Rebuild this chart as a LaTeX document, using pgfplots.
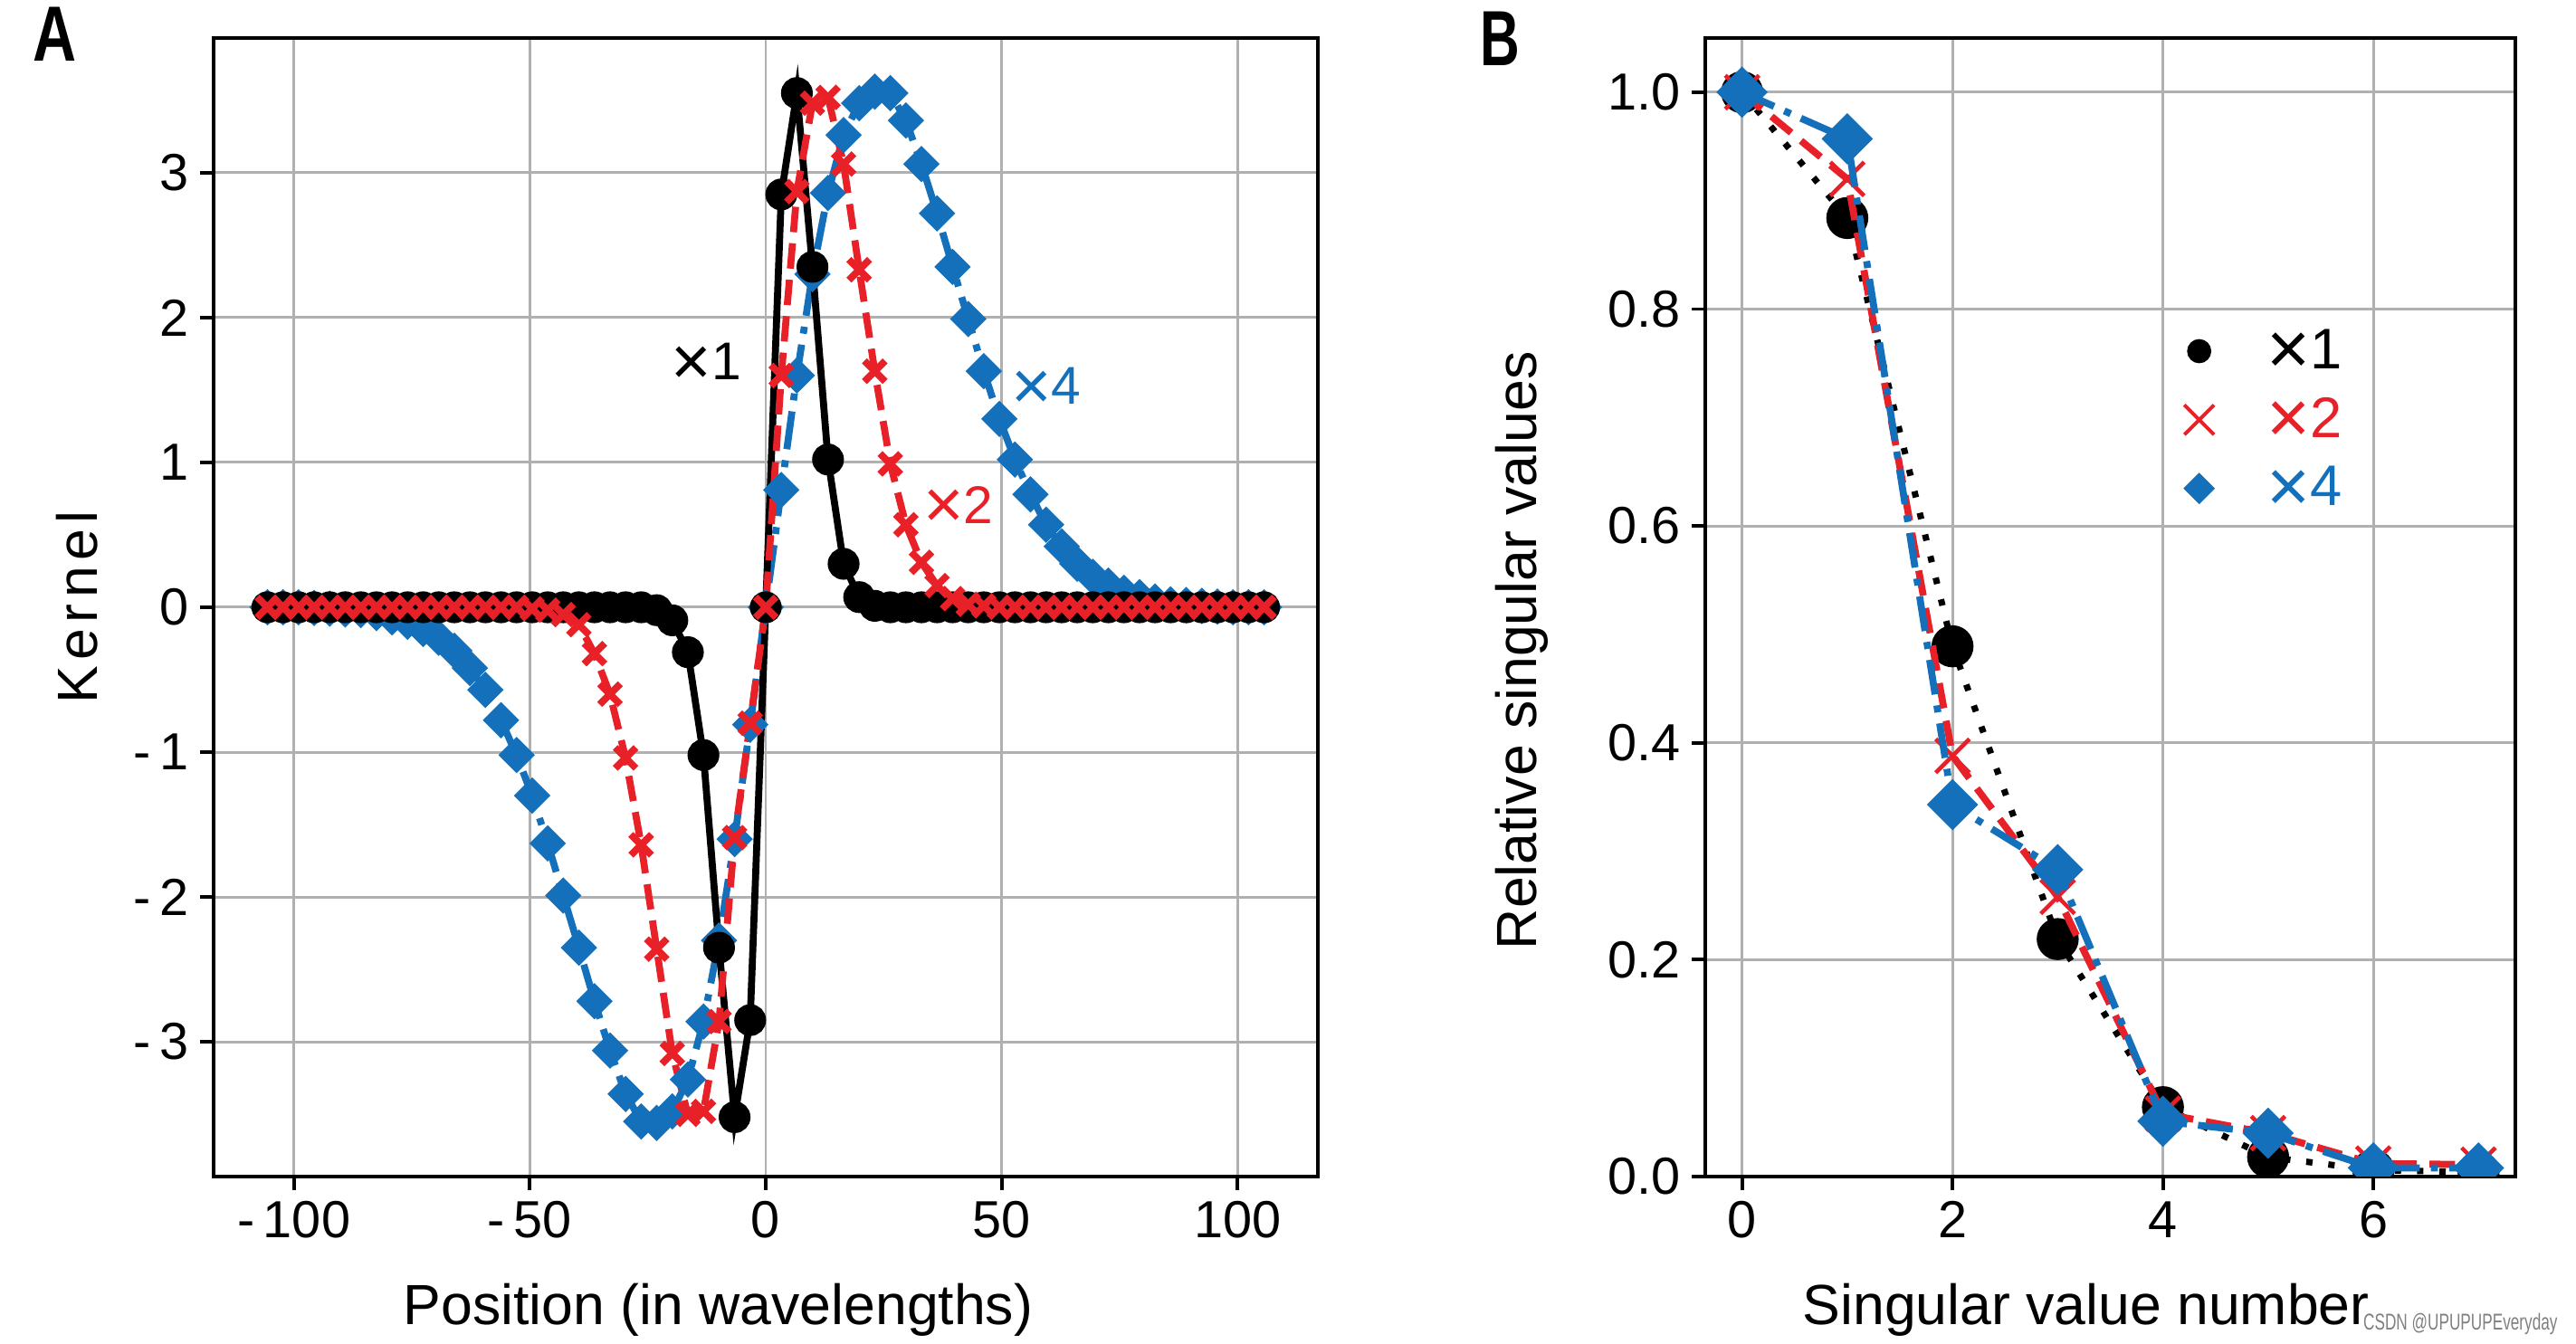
\documentclass[border=0pt]{standalone}
\usepackage{pgfplots}
\pgfplotsset{compat=1.18}
\usepackage{graphicx}
\usepackage{fontspec}
\setmainfont{Liberation Sans}
\definecolor{cred}{RGB}{232,32,40}
\definecolor{cblue}{RGB}{20,112,186}
\definecolor{gridgray}{RGB}{176,176,176}
\newcommand{\tm}{\raisebox{-0.1em}{\scalebox{1.3}{×}}}

\pgfplotstableread{
x y
-105.6 0
-102.3 0
-99 0
-95.7 0
-92.4 0
-89.1 0
-85.8 0
-82.5 0
-79.2 0
-75.9 0
-72.6 0
-69.3 0
-66 0
-62.7 0
-59.4 0
-56.1 0
-52.8 0
-49.5 0
-46.2 0
-42.9 0
-39.6 0
-36.3 0
-33 0
-29.7 0
-26.4 0
-23.1 -0.02
-19.8 -0.09
-16.5 -0.31
-13.2 -1.02
-9.9 -2.35
-6.6 -3.52
-3.3 -2.85
0 0
3.3 2.85
6.6 3.55
9.9 2.35
13.2 1.02
16.5 0.30
19.8 0.07
23.1 0.01
26.4 0
29.7 0
33 0
36.3 0
39.6 0
42.9 0
46.2 0
49.5 0
52.8 0
56.1 0
59.4 0
62.7 0
66 0
69.3 0
72.6 0
75.9 0
79.2 0
82.5 0
85.8 0
89.1 0
92.4 0
95.7 0
99 0
102.3 0
105.6 0
}\blackA

\pgfplotstableread{
x y
-105.6 0
-102.3 0
-99 0
-95.7 0
-92.4 0
-89.1 0
-85.8 0
-82.5 0
-79.2 0
-75.9 0
-72.6 0
-69.3 0
-66 0
-62.7 0
-59.4 0
-56.1 0
-52.8 0
-49.5 -0.01
-46.2 -0.02
-42.9 -0.05
-39.6 -0.12
-36.3 -0.32
-33 -0.60
-29.7 -1.04
-26.4 -1.64
-23.1 -2.36
-19.8 -3.08
-16.5 -3.50
-13.2 -3.48
-9.9 -2.86
-6.6 -1.59
-3.3 -0.8
0 0
3.3 1.6
6.6 2.87
9.9 3.48
13.2 3.52
16.5 3.06
19.8 2.33
23.1 1.63
26.4 0.99
29.7 0.57
33 0.31
36.3 0.15
39.6 0.06
42.9 0.02
46.2 0.01
49.5 0
52.8 0
56.1 0
59.4 0
62.7 0
66 0
69.3 0
72.6 0
75.9 0
79.2 0
82.5 0
85.8 0
89.1 0
92.4 0
95.7 0
99 0
102.3 0
105.6 0
}\redA

\pgfplotstableread{
x y
-105.6 0
-102.3 0
-99 0
-95.7 -0.005
-92.4 -0.01
-89.1 -0.015
-85.8 -0.02
-82.5 -0.04
-79.2 -0.07
-75.9 -0.10
-72.6 -0.15
-69.3 -0.21
-66 -0.30
-62.7 -0.42
-59.4 -0.57
-56.1 -0.78
-52.8 -1.02
-49.5 -1.30
-46.2 -1.63
-42.9 -1.99
-39.6 -2.35
-36.3 -2.72
-33 -3.06
-29.7 -3.36
-26.4 -3.55
-23.1 -3.56
-19.8 -3.48
-16.5 -3.26
-13.2 -2.86
-9.9 -2.30
-6.6 -1.60
-3.3 -0.81
0 0
3.3 0.81
6.6 1.60
9.9 2.30
13.2 2.86
16.5 3.26
19.8 3.48
23.1 3.56
26.4 3.55
29.7 3.36
33 3.06
36.3 2.72
39.6 2.35
42.9 1.99
46.2 1.63
49.5 1.30
52.8 1.02
56.1 0.78
59.4 0.57
62.7 0.42
66 0.30
69.3 0.21
72.6 0.15
75.9 0.10
79.2 0.07
82.5 0.04
85.8 0.02
89.1 0.015
92.4 0.01
95.7 0.005
99 0
102.3 0
105.6 0
}\blueA

\pgfplotstableread{
x y
0 1.000
1 0.884
2 0.489
3 0.219
4 0.064
5 0.018
6 0.006
7 0.004
}\blackB

\pgfplotstableread{
x y
0 1.000
1 0.920
2 0.388
3 0.258
4 0.058
5 0.040
6 0.012
7 0.011
}\redB

\pgfplotstableread{
x y
0 1.000
1 0.957
2 0.343
3 0.283
4 0.051
5 0.040
6 0.008
7 0.008
}\blueB

\pgfplotsset{
  mystyle/.style={
    scale only axis,
    height=12.58cm,
    axis line style={line width=1.1pt, black},
    every tick/.style={line width=1.1pt, black},
    major tick length=0.15cm,
    tick align=outside,
    xtick pos=bottom, ytick pos=left,
    grid=major,
    major grid style={gridgray, line width=0.85pt},
    tick label style={font=\fontsize{16.4}{19}\selectfont},
    label style={font=\fontsize{17.8}{21}\selectfont},
  }
}

\begin{document}
\begin{tikzpicture}
\useasboundingbox (-2.36,-1.85) rectangle (26.10,13.00);

\begin{axis}[mystyle, at={(0cm,0cm)}, anchor=south west, width=12.2cm,
  xmin=-117, xmax=117, ymin=-3.93, ymax=3.93,
  xtick={-100,-50,0,50,100}, xticklabels={-\,100,-\,50,0,50,100},
  ytick={-3,-2,-1,0,1,2,3}, yticklabels={-\,3,-\,2,-\,1,0,1,2,3},
  xlabel={Position (in wavelengths)},
  ylabel={\addfontfeature{LetterSpace=10}Kernel},
  x label style={at={(axis description cs:0.457,-0.117)}, anchor=center},
  y label style={at={(axis description cs:-0.124,0.5)}, anchor=center},
]
\addplot[cblue, line width=2.2pt, dash pattern=on 12pt off 3.5pt on 2.2pt off 3.5pt,
  mark=square*, mark size=3.8pt, mark options={solid, rotate=45, fill=cblue, line width=0.5pt}] table {\blueA};
\addplot[black, line width=2.2pt, mark=*, mark size=3.9pt, mark options={solid}] table {\blackA};
\addplot[cred, line width=2.2pt, dash pattern=on 8pt off 3.5pt,
  mark=x, mark size=4.6pt, mark options={solid, line width=2.2pt}] table {\redA};
\node[black, font=\fontsize{16.7}{19}\selectfont] at (axis cs:-12.6,1.68) {\tm1};
\node[cred, font=\fontsize{16.7}{19}\selectfont] at (axis cs:40.8,0.69) {\tm2};
\node[cblue, font=\fontsize{16.7}{19}\selectfont] at (axis cs:59.4,1.51) {\tm4};
\end{axis}

\begin{axis}[mystyle, at={(16.48cm,0cm)}, anchor=south west, width=8.95cm,
  xmin=-0.35, xmax=7.35, ymin=0, ymax=1.05,
  xtick={0,2,4,6}, xticklabels={0,2,4,6},
  ytick={0,0.2,0.4,0.6,0.8,1.0}, yticklabels={0.0,0.2,0.4,0.6,0.8,1.0},
  xlabel={Singular value number},
  ylabel={Relative singular values},
  x label style={at={(axis description cs:0.47,-0.117)}, anchor=center},
  y label style={at={(axis description cs:-0.227,0.462)}, anchor=center},
  clip marker paths=true,
  legend cell align=left,
  legend image code/.code={\path[draw=none, fill=none] (0cm,-0.2cm) rectangle (0.6cm,0.2cm);
    \draw[mark repeat=2,mark phase=2,#1] plot coordinates {(0cm,0cm) (0.3cm,0cm) (0.6cm,0cm)};},
  legend style={draw=none, fill=none, at={(axis cs:3.99,0.788)}, anchor=north west,
    font=\fontsize{18}{21}\selectfont, nodes={inner sep=0pt}, row sep=7.6pt,
    /tikz/every odd column/.append style={column sep=0.45cm}},
]
\addplot[forget plot, black, line width=2pt, dash pattern=on 2pt off 5pt,
  mark=*, mark size=5.6pt, mark options={solid}] table {\blackB};
\addplot[forget plot, cred, line width=2.2pt, dash pattern=on 8pt off 4pt,
  mark=x, mark size=7.5pt, mark options={solid, line width=1.3pt}] table {\redB};
\addplot[forget plot, cblue, line width=2.2pt, dash pattern=on 11pt off 3.5pt on 2.2pt off 3.5pt,
  mark=square*, mark size=4.6pt, mark options={solid, rotate=45, fill=cblue}] table {\blueB};
\addlegendimage{only marks, mark=*, mark size=3.6pt, black}
\addlegendentry{\textcolor{black}{\tm1}}
\addlegendimage{only marks, mark=x, mark size=6.6pt, cred, mark options={line width=1.1pt}}
\addlegendentry{\textcolor{cred}{\tm2}}
\addlegendimage{only marks, mark=square*, mark size=3.3pt, cblue, mark options={rotate=45}}
\addlegendentry{\textcolor{cblue}{\tm4}}
\end{axis}

\node[font=\fontsize{24.6}{28}\selectfont\bfseries, xscale=0.77] at (-1.75,12.62) {A};
\node[font=\fontsize{24.6}{28}\selectfont\bfseries, xscale=0.70] at (14.21,12.57) {B};
\node[gray, font=\fontsize{7.2}{8}\selectfont, xscale=0.68, anchor=east] at (25.98,-1.63) {CSDN @UPUPUPEveryday};
\end{tikzpicture}
\end{document}
